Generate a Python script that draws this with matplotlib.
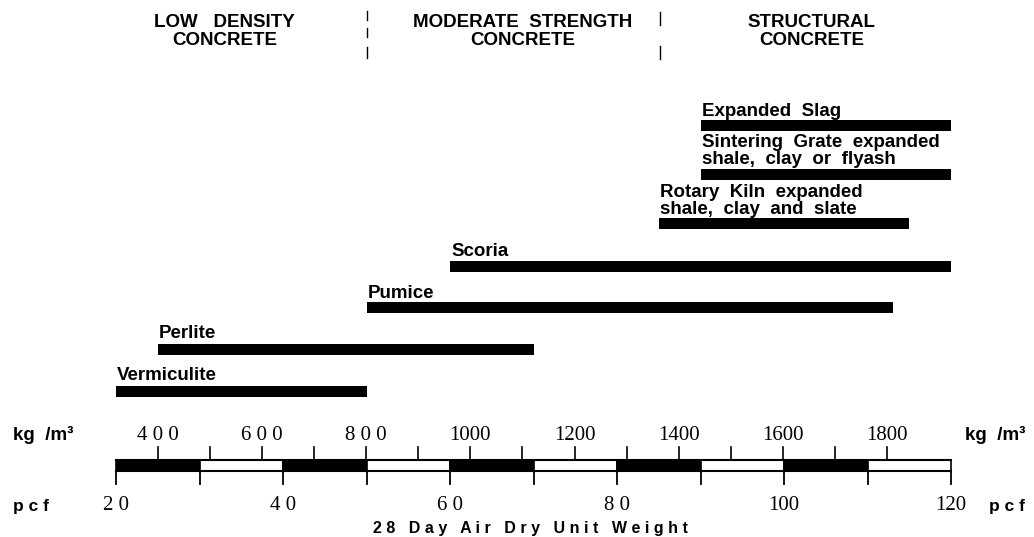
import matplotlib
matplotlib.use("Agg")
import matplotlib.pyplot as plt
import numpy as np

# ---- data (pcf) ----
materials = ["Vermiculite", "Perlite", "Pumice", "Scoria",
             "Rotary  Kiln  expanded\nshale,  clay  and  slate",
             "Sintering  Grate  expanded\nshale,  clay  or  flyash",
             "Expanded  Slag"]
start_pcf = [20, 25, 50, 60, 85, 90, 90]
end_pcf = [50, 70, 113, 120, 115, 120, 120]

pcf_ticks = [20, 30, 40, 50, 60, 70, 80, 90, 100, 110, 120]
pcf_labels = {20: "2 0", 40: "4 0", 60: "6 0", 80: "8 0", 100: "100", 120: "120"}
kg_ticks = [400, 500, 600, 700, 800, 900, 1000, 1100, 1200, 1300, 1400,
            1500, 1600, 1700, 1800]
kg_labels = {400: "4 0 0", 600: "6 0 0", 800: "8 0 0", 1000: "1000",
             1200: "1200", 1400: "1400", 1600: "1600", 1800: "1800"}
KG_PER_PCF = 16.0185

zones = ["LOW   DENSITY\nCONCRETE", "MODERATE  STRENGTH\nCONCRETE",
         "STRUCTURAL\nCONCRETE"]
zone_centers = [33.0, 68.7, 103.3]

# ---- layout ----
W, H = 1034, 537
fig = plt.figure(figsize=(W / 100, H / 100), dpi=100)
ax = fig.add_axes([0, 0, 1, 1])
px = 8.35  # pixels per pcf
x0 = 20 - 116 / px
x1 = x0 + W / px
ax.set_xlim(x0, x1)
ax.set_ylim(H, 0)
ax.axis("off")

sans = "Liberation Sans"
serif = "Liberation Serif"

# material bars
bar_y = [391, 349, 307, 266, 223, 174, 125]
label_y = [376, 334, 293, 252, 201, 151, 111]
widths = [e - s for s, e in zip(start_pcf, end_pcf)]
ax.barh(bar_y, widths, left=start_pcf, height=11, color="black")
for name, s, ly in zip(materials, start_pcf, label_y):
    ax.text(s + 0.15, ly, name, fontfamily=sans, fontweight="bold",
            fontsize=13.5, ha="left", va="center", linespacing=0.97)

# zone headings
for z, c in zip(zones, zone_centers):
    ax.text(c, 31.5, z, fontfamily=sans, fontweight="bold", fontsize=13.5,
            ha="center", va="center", linespacing=1.13)
# dashed dividers
for (a, b) in [(11, 20), (28, 37), (47, 58)]:
    ax.plot([50, 50], [a, b], color="black", lw=1)
for (a, b) in [(12, 25), (46, 59)]:
    ax.plot([85.1, 85.1], [a, b], color="black", lw=1)

# scale bar
top, bot = 460, 471
seg_left = pcf_ticks[:-1]
seg_colors = ["black" if i % 2 == 0 else "white" for i in range(len(seg_left))]
ax.barh([(top + bot) / 2] * len(seg_left), [10] * len(seg_left),
        left=seg_left, height=bot - top, color=seg_colors,
        edgecolor="black", linewidth=1.2)
ax.plot([20, 120], [top, top], color="black", lw=1.5)
ax.plot([20, 120], [bot, bot], color="black", lw=1.5)

# lower ticks (pcf)
for t in pcf_ticks:
    ax.plot([t, t], [bot, 484], color="black", lw=1.3)
    if t in pcf_labels:
        ax.text(t, 505, pcf_labels[t], fontfamily=serif, fontsize=15,
                ha="center", va="center")

# upper ticks (kg/m3)
for k in kg_ticks:
    p = k / KG_PER_PCF
    ax.plot([p, p], [447, top], color="black", lw=1.2)
    if k in kg_labels:
        ax.text(p, 436, kg_labels[k], fontfamily=serif, fontsize=15,
                ha="center", va="center")

# unit labels
for xx, ha in [(x0 + 13 / px, "left"), (x1 - 9 / px, "right")]:
    ax.text(xx, 435, "kg  /m\u00b3", fontfamily=sans, fontweight="bold",
            fontsize=13.5, ha=ha, va="center")
    ax.text(xx, 507, "p c f", fontfamily=sans, fontweight="bold",
            fontsize=12.5, ha=ha, va="center")

ax.text(20 + (530 - 116) / px, 528,
        "2 8   D a y   A i r   D r y   U n i t   W e i g h t",
        fontfamily=sans, fontweight="bold", fontsize=11.5,
        ha="center", va="center")

fig.savefig("out.png", dpi=100)
